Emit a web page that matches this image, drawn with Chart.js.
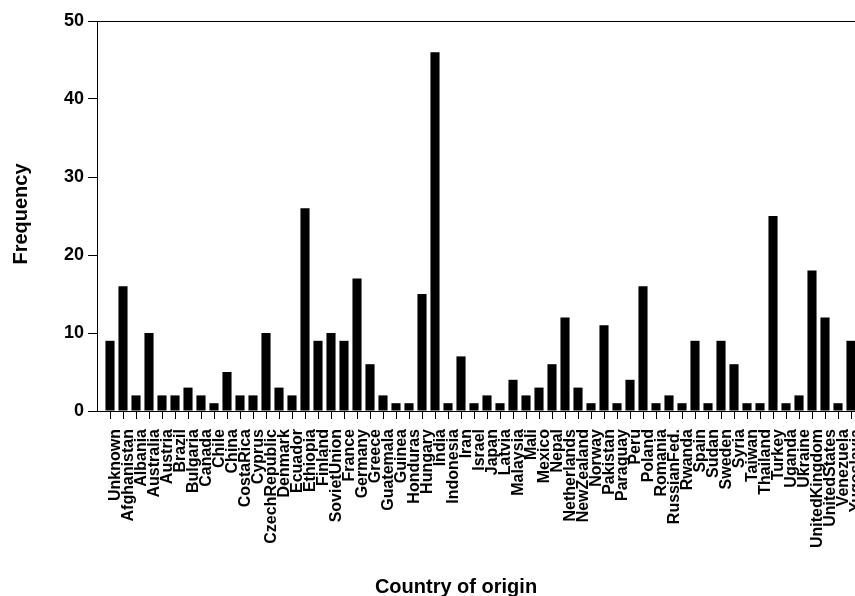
<!DOCTYPE html>
<html>
<head>
<meta charset="utf-8">
<script src="https://cdn.jsdelivr.net/npm/chart.js@4/dist/chart.umd.min.js"></script>
<style>
html,body{margin:0;padding:0;background:#fff;overflow:hidden;width:855px;height:596px;}
canvas{display:block;}
</style>
</head>
<body>
<canvas id="c" width="866" height="596"></canvas>
<script>
const categories = ["Unknown","Afghanistan","Albania","Australia","Austria","Brazil","Bulgaria","Canada","Chile","China","CostaRica","Cyprus","CzechRepublic","Denmark","Ecuador","Ethiopia","Finland","SovietUnion","France","Germany","Greece","Guatemala","Guinea","Honduras","Hungary","India","Indonesia","Iran","Israel","Japan","Latvia","Malaysia","Mali","Mexico","Nepal","Netherlands","NewZealand","Norway","Pakistan","Paraguay","Peru","Poland","Romania","RussianFed.","Rwanda","Spain","Sudan","Sweden","Syria","Taiwan","Thailand","Turkey","Uganda","Ukraine","UnitedKingdom","UnitedStates","Venezuela","Yugoslavia"];
const frequency = [9,16,2,10,2,2,3,2,1,5,2,2,10,3,2,26,9,10,9,17,6,2,1,1,15,46,1,7,1,2,1,4,2,3,6,12,3,1,11,1,4,16,1,2,1,9,1,9,6,1,1,25,1,2,18,12,1,9];
const yTicks = [0,10,20,30,40,50];
const xTitle = "Country of origin";
const yTitle = "Frequency";

const titlePlugin = {
  id: 'axisTitles',
  afterDraw(chart) {
    const ctx = chart.ctx;
    ctx.save();
    ctx.fillStyle = '#000';
    ctx.font = 'bold 20px "Liberation Sans", Arial, sans-serif';
    ctx.textAlign = 'center';
    ctx.textBaseline = 'alphabetic';
    ctx.fillText(xTitle, 456, 593);
    ctx.translate(27, 214);
    ctx.rotate(-Math.PI / 2);
    ctx.fillText(yTitle, 0, 0);
    ctx.restore();
  }
};

new Chart(document.getElementById('c'), {
  type: 'bar',
  data: {
    datasets: [{
      data: categories.map((c, i) => ({ x: i, y: frequency[i] })),
      backgroundColor: '#000',
      borderWidth: 0,
      barPercentage: 0.7,
      categoryPercentage: 1.0
    }]
  },
  options: {
    responsive: false,
    animation: false,
    devicePixelRatio: 1,
    layout: { padding: { top: 21, right: 2, left: 0, bottom: 0 } },
    plugins: { legend: { display: false }, tooltip: { enabled: false } },
    scales: {
      x: {
        type: 'linear',
        offset: false,
        min: -1,
        max: 58,
        afterBuildTicks(scale) { scale.ticks = categories.map((c, i) => ({ value: i })); },
        afterFit(scale) { scale.height = 185; scale.paddingLeft = 0; scale.paddingRight = 0; },
        ticks: {
          autoSkip: false,
          maxRotation: 90,
          minRotation: 90,
          padding: 10,
          labelOffset: 6,
          color: '#000',
          font: { family: '"Liberation Sans", Arial, sans-serif', size: 16, weight: 'bold' },
          callback: (v) => categories[v]
        },
        grid: { display: true, offset: false, drawOnChartArea: false, drawTicks: true, tickLength: 8, tickColor: '#000', color: '#000' },
        border: { display: true, color: '#000', width: 1 }
      },
      y: {
        min: 0,
        max: 50,
        afterBuildTicks(scale) { scale.ticks = yTicks.map(v => ({ value: v })); },
        afterFit(scale) { scale.width = 97; scale.paddingTop = 0; scale.paddingBottom = 0; },
        ticks: {
          padding: 4,
          color: '#000',
          font: { family: '"Liberation Sans", Arial, sans-serif', size: 18, weight: 'bold' }
        },
        grid: {
          drawOnChartArea: true,
          drawTicks: true,
          tickLength: 9,
          tickColor: '#000',
          color: (ctx) => (ctx.tick && ctx.tick.value === 50) ? '#000' : 'rgba(0,0,0,0)'
        },
        border: { display: true, color: '#000', width: 1 }
      }
    }
  },
  plugins: [titlePlugin]
});
</script>
</body>
</html>
